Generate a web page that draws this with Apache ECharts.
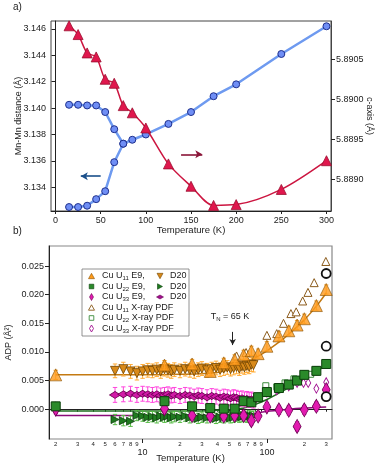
<!DOCTYPE html>
<html><head><meta charset="utf-8">
<script src="https://cdn.jsdelivr.net/npm/echarts@6/dist/echarts.min.js"></script>
<style>html,body{margin:0;padding:0;background:#fff}#c{width:382px;height:468px}</style>
</head><body><div id="c"></div>
<script>
// ---------- Panel a data ----------
const tA = [15,25,35,45,55,65,75,85,100,125,150,175,200,250,300];
const mnMnLow = [3.1325,3.1325,3.1326,3.1331,3.1337,3.1359,3.1373,3.1376,3.1380,3.1388,3.1397,3.1409,3.1418,3.1441,3.1462];
const tAUp = [15,25,35,45,55,65,75];
const mnMnUp = [3.14025,3.14025,3.1402,3.1402,3.1397,3.1384,3.1373];
const cAxis = [5.89092,5.89081,5.89058,5.89053,5.89025,5.8902,5.88992,5.88983,5.88964,5.88919,5.88891,5.88867,5.88868,5.88887,5.88923];
const tickA_x = [0,50,100,150,200,250,300];
const tickA_left = [3.134,3.136,3.138,3.140,3.142,3.144,3.146];
const tickA_right = [5.8890,5.8895,5.8900,5.8905];

// ---------- Panel b data ----------
const tE9 = [2,15,25,35,45,55,65,75,85,100,125,150,175,200,250,300];
const u11E9 = [0.0060,0.0077,0.0079,0.0066,0.0081,0.0087,0.0095,0.0102,0.0097,0.0110,0.0128,0.0137,0.0147,0.0158,0.0181,0.0209];
const u22E9 = [0.0005,0.0014,0.0005,0.0002,0.0001,0.0001,0.0014,0.0012,0.0021,0.0030,0.0037,0.0043,0.0050,0.0060,0.0067,0.0079];
const u33E9 = [0.0000,0.0001,-0.0011,-0.0012,-0.0012,-0.0011,-0.0011,-0.0020,-0.0012,0.0004,-0.0001,-0.0002,-0.0030,-0.0001,0.0005,0.0034];

const tD20 = [6,7,8,9,10,11,12,13,14,15,16,17,18,20,22,24,26,28,30,33,36,39,42,45,48,51,54,57,60,63,66,69,72,75,78];
const u11D20 = [0.0067,0.0070,0.0066,0.0063,0.0066,0.0068,0.0067,0.0069,0.0066,0.0070,0.0068,0.0066,0.0069,0.0067,0.0070,0.0068,0.0066,0.0069,0.0071,0.0068,0.0070,0.0072,0.0069,0.0071,0.0073,0.0070,0.0072,0.0074,0.0071,0.0075,0.0073,0.0076,0.0074,0.0078,0.0077];
const u22D20 = [-0.0018,-0.0020,-0.0021,-0.0011,-0.0012,-0.0014,-0.0013,-0.0015,-0.0012,-0.0014,-0.0012,-0.0015,-0.0013,-0.0014,-0.0012,-0.0015,-0.0013,-0.0016,-0.0014,-0.0015,-0.0013,-0.0016,-0.0014,-0.0015,-0.0013,-0.0015,-0.0014,-0.0012,-0.0014,-0.0013,-0.0012,-0.0014,-0.0011,-0.0013,-0.0012];
const u33D20 = [0.0025,0.0026,0.0027,0.0025,0.0027,0.0026,0.0025,0.0026,0.0024,0.0025,0.0026,0.0024,0.0025,0.0023,0.0025,0.0024,0.0022,0.0024,0.0023,0.0021,0.0023,0.0022,0.0020,0.0022,0.0021,0.0019,0.0021,0.0020,0.0018,0.0019,0.0017,0.0018,0.0016,0.0017,0.0015];
const errD20 = {u11: 0.0012, u22: 0.0009, u33: 0.0013};
const errE9 = {u11: 0.0008, u22: 0.0007, u33: 0.0008};

const tXu11 = [57,68,100,120,136,156,172,194,214,240,298];
const u11X = [0.0093,0.0099,0.0129,0.0132,0.0150,0.0167,0.0170,0.0189,0.0204,0.0221,0.0258];
const tXu22 = [98,120,140,165,200,225,250,300];
const u22X = [0.0041,0.0039,0.0046,0.0053,0.0060,0.0061,0.0069,0.0077];
const tXu33 = [100,120,150,175,197,215,250,300];
const u33X = [0.0029,0.0033,0.0040,0.0046,0.0046,0.0046,0.0036,0.0047];
const tCircle = [300,300,300];
const circleVals = [0.0237,0.0110,0.0022];

const tFit = [2,5,10,20,30,40,50,60,70,80,100,125,150,200,250,300];
const fitU11 = [0.0060,0.0060,0.0060,0.0061,0.0062,0.0064,0.0069,0.0075,0.0082,0.0089,0.0102,0.0117,0.0131,0.0156,0.0180,0.0203];
const fitU22 = [-0.0003,-0.0003,-0.0003,-0.0003,-0.0003,-0.0002,-0.0001,0.0001,0.0004,0.0008,0.0017,0.0028,0.0038,0.0054,0.0066,0.0077];
const fitU33 = [-0.0011,-0.0011,-0.0011,-0.0011,-0.0011,-0.0011,-0.0010,-0.0009,-0.0008,-0.0007,-0.0004,-0.0002,0.0000,0.0002,0.0003,0.0004];

const tickB_y = [0,0.005,0.010,0.015,0.020,0.025];
const tickB_minor = [2,3,4,5,6,7,8,9,20,30,40,50,60,70,80,90,200,300];
const tickB_major = [10,100];
const tnArrowT = 53;

// ---------- helpers ----------
const zip = (xs, ys) => xs.map((x, i) => [x, ys[i]]);
const FONT = 'Liberation Sans, Arial, sans-serif';
const TXT = '#222';

function errSeries(xs, ys, err, color, z) {
  return {
    type: 'custom', xAxisIndex: 1, yAxisIndex: 2, z: z, silent: true, clip: true,
    data: xs.map((t, i) => [t, ys[i] - err, ys[i] + err]),
    encode: {x: 0, y: [1, 2]},
    renderItem: function (params, api) {
      const lo = api.coord([api.value(0), api.value(1)]);
      const hi = api.coord([api.value(0), api.value(2)]);
      const w = 2.2, st = {stroke: color, lineWidth: 1};
      return {type: 'group', children: [
        {type: 'line', shape: {x1: lo[0], y1: lo[1], x2: hi[0], y2: hi[1]}, style: st},
        {type: 'line', shape: {x1: lo[0] - w, y1: lo[1], x2: lo[0] + w, y2: lo[1]}, style: st},
        {type: 'line', shape: {x1: hi[0] - w, y1: hi[1], x2: hi[0] + w, y2: hi[1]}, style: st}
      ]};
    }
  };
}
function sc(name, xs, ys, symbol, size, fill, border, bw, rot, z) {
  return {
    type: 'scatter', name: name, xAxisIndex: 1, yAxisIndex: 2, z: z,
    data: zip(xs, ys), symbol: symbol, symbolSize: size, symbolRotate: rot || 0,
    itemStyle: {color: fill, borderColor: border, borderWidth: bw, opacity: 1},
    silent: true
  };
}
function fit(ys, color) {
  return {type: 'line', xAxisIndex: 1, yAxisIndex: 2, data: zip(tFit, ys), smooth: 0.4,
    symbol: 'none', lineStyle: {color: color, width: 1.5}, z: 2, silent: true};
}

const C = {
  or: '#ff9a1a', orB: '#8a5200', orD: '#d98a1a', orDB: '#6e4300', orErr: '#ffaa33', orFit: '#c47a12', orX: '#8a5a1a',
  gr: '#2a8a2a', grB: '#0b3f0b', grD: '#1f7a1f', grErr: '#55bb44', grFit: '#1f6e1f', grX: '#3c8c3c',
  mg: '#e21bb0', mgB: '#6a0050', mgErr: '#ff44dd', mgFit: '#8a0a78', mgX: '#a01090'
};

const chart = echarts.init(document.getElementById('c'), null, {renderer: 'canvas'});

const logLabel = v => {
  const e = Math.pow(10, Math.floor(Math.log10(v) + 1e-9));
  return String(Math.round(v / e));
};

const option = {
  animation: false,
  textStyle: {fontFamily: FONT},
  grid: [
    {left: 51, top: 21, width: 280, height: 190, show: true, borderColor: '#444', borderWidth: 1, backgroundColor: 'transparent',
      outerBoundsMode: 'none', containLabel: false},
    {left: 49, top: 246, width: 283, height: 193, show: true, borderColor: '#888', borderWidth: 1.2, backgroundColor: 'transparent',
      outerBoundsMode: 'none', containLabel: false}
  ],
  xAxis: [
    {type: 'value', gridIndex: 0, min: -5, max: 305, position: 'bottom',
      name: 'Temperature (K)', nameLocation: 'middle', nameGap: 14, nameMoveOverlap: false,
      nameTextStyle: {fontSize: 9.5, color: TXT, fontFamily: FONT},
      axisLine: {lineStyle: {color: '#222', width: 1}},
      axisTick: {customValues: tickA_x, length: 3, lineStyle: {color: '#222'}},
      axisLabel: {customValues: tickA_x, fontSize: 9, color: TXT, margin: 5, fontFamily: FONT},
      splitLine: {show: false}},
    {type: 'log', gridIndex: 1, min: 1.766, max: 334, logBase: 10, position: 'bottom',
      axisLine: {lineStyle: {color: '#222', width: 1}},
      axisTick: {customValues: tickB_minor, length: 2.5, lineStyle: {color: '#222'}},
      axisLabel: {customValues: tickB_minor, fontSize: 6, color: TXT, margin: 2.5, formatter: logLabel, fontFamily: FONT},
      splitLine: {show: false}, minorTick: {show: false}},
    {type: 'log', gridIndex: 1, min: 1.766, max: 334, logBase: 10, position: 'bottom', offset: 0,
      name: 'Temperature (K)', nameLocation: 'middle', nameGap: 14, nameMoveOverlap: false,
      nameTextStyle: {fontSize: 9.5, color: TXT, fontFamily: FONT},
      axisLine: {show: false},
      axisTick: {customValues: tickB_major, length: 4, lineStyle: {color: '#222'}},
      axisLabel: {customValues: tickB_major, fontSize: 9, color: TXT, margin: 9, fontFamily: FONT},
      splitLine: {show: false}}
  ],
  yAxis: [
    {type: 'value', gridIndex: 0, min: 3.1322, max: 3.1466, position: 'left',
      name: 'Mn-Mn distance (Å)', nameLocation: 'middle', nameGap: 28, nameRotate: 90, nameMoveOverlap: false,
      nameTextStyle: {fontSize: 9, color: TXT, fontFamily: FONT},
      axisLine: {show: true, lineStyle: {color: '#222'}},
      axisTick: {show: true, customValues: tickA_left, length: 4, lineStyle: {color: '#222'}},
      axisLabel: {customValues: tickA_left, fontSize: 9, color: TXT, margin: 5, formatter: v => v.toFixed(3), fontFamily: FONT},
      splitLine: {show: false}},
    {type: 'value', gridIndex: 0, min: 5.8886, max: 5.89098, position: 'right',
      name: 'c-axis (Å)', nameLocation: 'middle', nameGap: 34, nameRotate: -90, nameMoveOverlap: false,
      nameTextStyle: {fontSize: 9, color: TXT, fontFamily: FONT},
      axisLine: {show: true, lineStyle: {color: '#444'}},
      axisTick: {show: true, customValues: tickA_right, length: 4, lineStyle: {color: '#222'}},
      axisLabel: {customValues: tickA_right, fontSize: 9, color: TXT, margin: 5, formatter: v => v.toFixed(4), fontFamily: FONT},
      splitLine: {show: false}},
    {type: 'value', gridIndex: 1, min: -0.0052, max: 0.0285,
      name: 'ADP (Å²)', nameLocation: 'middle', nameGap: 36, nameRotate: 90, nameMoveOverlap: false,
      nameTextStyle: {fontSize: 9, color: TXT, fontFamily: FONT},
      axisLine: {show: true, lineStyle: {color: '#222'}},
      axisTick: {show: true, customValues: tickB_y, length: 4, lineStyle: {color: '#222'}},
      axisLabel: {customValues: tickB_y, fontSize: 9, color: TXT, margin: 5, formatter: v => v.toFixed(3), fontFamily: FONT},
      splitLine: {show: false}}
  ],
  series: [
    // ---- Panel a ----
    {type: 'line', xAxisIndex: 0, yAxisIndex: 0, data: zip(tAUp, mnMnUp), symbol: 'circle', symbolSize: 7,
      lineStyle: {color: '#6e9af0', width: 2.5}, itemStyle: {color: '#6f8ef5', borderColor: '#1e2f8c', borderWidth: 1}, z: 3, silent: true},
    {type: 'line', xAxisIndex: 0, yAxisIndex: 0, data: zip(tA, mnMnLow), symbol: 'circle', symbolSize: 7,
      lineStyle: {color: '#6e9af0', width: 2.5}, itemStyle: {color: '#6f8ef5', borderColor: '#1e2f8c', borderWidth: 1}, z: 3, silent: true,
      markLine: {silent: true, symbol: ['none', 'arrow'], symbolSize: [6, 7], label: {show: false},
        lineStyle: {color: '#1a4f8a', width: 1.6, type: 'solid'},
        data: [[{coord: [50, 3.13484]}, {coord: [28, 3.13484]}]]}},
    {type: 'line', xAxisIndex: 0, yAxisIndex: 1, data: zip(tA, cAxis), smooth: 0.3, symbol: 'triangle', symbolSize: 10,
      lineStyle: {color: '#cc1540', width: 1.5}, itemStyle: {color: '#e0174d', borderColor: '#9a0f30', borderWidth: 0.8}, z: 4, silent: true,
      markLine: {silent: true, symbol: ['none', 'arrow'], symbolSize: [6, 7], label: {show: false},
        lineStyle: {color: '#8a1538', width: 1.6, type: 'solid'},
        data: [[{coord: [139, 5.88931]}, {coord: [162.5, 5.88931]}]]}},

    // ---- Panel b ----
    fit(fitU33, C.mgFit),
    fit(fitU22, C.grFit),
    fit(fitU11, C.orFit),
    errSeries(tD20, u33D20, errD20.u33, C.mgErr, 3),
    errSeries(tD20, u22D20, errD20.u22, C.grErr, 3),
    errSeries(tD20, u11D20, errD20.u11, C.orErr, 3),
    sc('D20 U33', tD20, u33D20, 'diamond', [11, 7], '#d21aa8', C.mgB, 0.8, 0, 4),
    sc('D20 U22', tD20, u22D20, 'triangle', 8, C.grD, C.grB, 0.8, -90, 4),
    sc('D20 U11', tD20, u11D20, 'triangle', 9, C.orD, C.orDB, 0.8, 180, 4),
    errSeries(tE9, u33E9, errE9.u33, C.mgErr, 5),
    errSeries(tE9, u22E9, errE9.u22, C.grErr, 5),
    errSeries(tE9, u11E9, errE9.u11, C.orErr, 5),
    sc('X U33', tXu33, u33X, 'diamond', [5, 9], '#fff', C.mgX, 1, 0, 6),
    sc('X U22', tXu22, u22X, 'rect', 6, '#fff', C.grX, 1, 0, 6),
    sc('X U11', tXu11, u11X, 'triangle', 8, '#fff', C.orX, 1, 0, 6),
    sc('E9 U33', tE9, u33E9, 'diamond', [8, 14], C.mg, C.mgB, 0.8, 0, 7),
    sc('E9 U22', tE9, u22E9, 'rect', 9, C.gr, C.grB, 1, 0, 7),
    {type: 'scatter', xAxisIndex: 1, yAxisIndex: 2, data: zip(tE9, u11E9), symbol: 'triangle', symbolSize: 12,
      itemStyle: {color: C.or, borderColor: C.orB, borderWidth: 0.8}, z: 8, silent: true,
      markLine: {silent: true, symbol: ['none', 'arrow'], symbolSize: [5, 6], label: {show: false},
        lineStyle: {color: '#222', width: 1, type: 'solid'},
        data: [[{coord: [tnArrowT, 0.0135]}, {coord: [tnArrowT, 0.0112]}]]}},
    sc('circles', tCircle, circleVals, 'circle', 9, '#fff', '#111', 1.8, 0, 8)
  ],
  graphic: []
};

// ---------- text annotations & legend ----------
const g = [];
g.push({type: 'text', left: 13, top: 2, style: {text: 'a)', fontSize: 10, fill: TXT, fontFamily: FONT}});
g.push({type: 'text', left: 13, top: 226, style: {text: 'b)', fontSize: 10, fill: TXT, fontFamily: FONT}});
g.push({type: 'text', x: 230, y: 317, style: {text: 'T{s|N} = 65 K', fontSize: 9, fill: TXT, fontFamily: FONT, align: 'center', verticalAlign: 'middle',
  rich: {s: {fontSize: 6, padding: [5, 0, 0, 0], fill: TXT, fontFamily: FONT}}}});

// legend box
const LX = 82, LY = 269, LW = 107, LH = 67, R0 = 276, RS = 10.5, SX1 = 91.5, TX1 = 102, SX2 = 160, TX2 = 170;
g.push({type: 'rect', shape: {x: LX, y: LY, width: LW, height: LH}, style: {fill: '#fff', stroke: '#777', lineWidth: 0.8}, z: 100});
function tri(cx, cy, s, dir) {
  const h = s * 0.9;
  if (dir === 'up') return [[cx, cy - h / 2], [cx + s / 2, cy + h / 2], [cx - s / 2, cy + h / 2]];
  if (dir === 'down') return [[cx, cy + h / 2], [cx + s / 2, cy - h / 2], [cx - s / 2, cy - h / 2]];
  return [[cx + h / 2, cy], [cx - h / 2, cy - s / 2], [cx - h / 2, cy + s / 2]];
}
function diam(cx, cy, w, h) { return [[cx, cy - h / 2], [cx + w / 2, cy], [cx, cy + h / 2], [cx - w / 2, cy]]; }
const legendRows = [
  {label: 'Cu U{s|11} E9,', sym: {type: 'polygon', shape: {points: tri(SX1, R0, 6, 'up')}, style: {fill: C.or, stroke: C.orB, lineWidth: 0.6}},
    sym2: {type: 'polygon', shape: {points: tri(SX2, R0, 6, 'down')}, style: {fill: C.orD, stroke: C.orDB, lineWidth: 0.6}}},
  {label: 'Cu U{s|22} E9,', sym: {type: 'rect', shape: {x: SX1 - 2.3, y: R0 + RS - 2.3, width: 4.6, height: 4.6}, style: {fill: C.gr, stroke: C.grB, lineWidth: 0.6}},
    sym2: {type: 'polygon', shape: {points: tri(SX2, R0 + RS, 5.5, 'right')}, style: {fill: C.grD, stroke: C.grB, lineWidth: 0.6}}},
  {label: 'Cu U{s|33} E9,', sym: {type: 'polygon', shape: {points: diam(SX1, R0 + 2 * RS, 4, 7)}, style: {fill: C.mg, stroke: C.mgB, lineWidth: 0.6}},
    sym2: {type: 'polygon', shape: {points: diam(SX2, R0 + 2 * RS, 7, 4)}, style: {fill: '#a01090', stroke: C.mgB, lineWidth: 0.6}}},
  {label: 'Cu U{s|11} X-ray PDF', sym: {type: 'polygon', shape: {points: tri(SX1, R0 + 3 * RS, 6, 'up')}, style: {fill: '#fff', stroke: C.orX, lineWidth: 0.9}}},
  {label: 'Cu U{s|22} X-ray PDF', sym: {type: 'rect', shape: {x: SX1 - 2.3, y: R0 + 4 * RS - 2.3, width: 4.6, height: 4.6}, style: {fill: '#fff', stroke: C.grX, lineWidth: 0.9}}},
  {label: 'Cu U{s|33} X-ray PDF', sym: {type: 'polygon', shape: {points: diam(SX1, R0 + 5 * RS, 4, 7)}, style: {fill: '#fff', stroke: C.mgX, lineWidth: 0.9}}}
];
legendRows.forEach((r, i) => {
  const y = R0 + i * RS;
  g.push(Object.assign({z: 101}, r.sym));
  g.push({type: 'text', x: TX1, y: y, z: 101, style: {text: r.label, fontSize: 9, fill: TXT, fontFamily: FONT, verticalAlign: 'middle',
    rich: {s: {fontSize: 6, padding: [5, 0, 0, 0], fill: TXT, fontFamily: FONT}}}});
  if (r.sym2) {
    g.push(Object.assign({z: 101}, r.sym2));
    g.push({type: 'text', x: TX2, y: y, z: 101, style: {text: 'D20', fontSize: 9, fill: TXT, fontFamily: FONT, verticalAlign: 'middle'}});
  }
});
option.graphic = g;
chart.setOption(option);
</script></body></html>
